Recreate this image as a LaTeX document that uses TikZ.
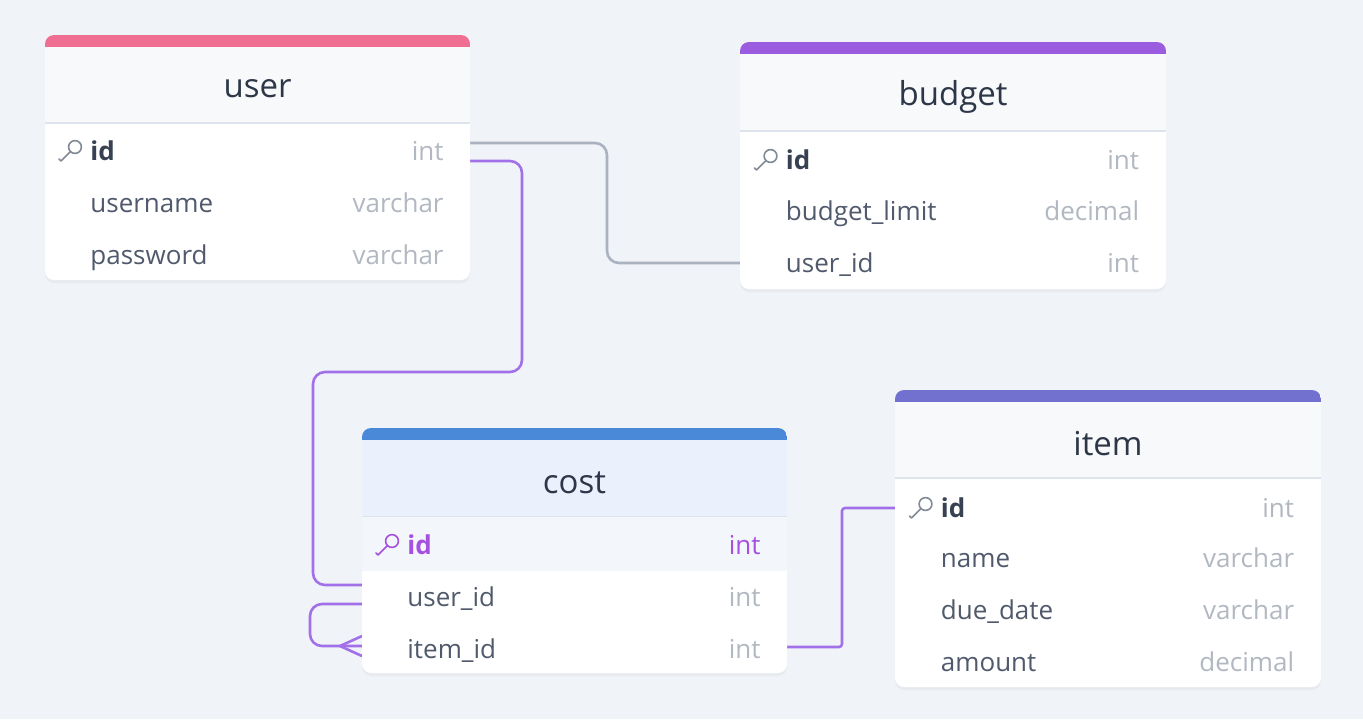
\documentclass[tikz,border=0pt]{standalone}
\usepackage{fontspec}
\setmainfont{Open Sans}
\usetikzlibrary{calc, shadows}

\definecolor{bgcol}{RGB}{240,244,248}
\definecolor{hdrfill}{RGB}{247,249,251}
\definecolor{hdrcost}{RGB}{235,241,252}
\definecolor{baruser}{RGB}{240,110,146}
\definecolor{barbudget}{RGB}{155,92,224}
\definecolor{barcost}{RGB}{74,137,216}
\definecolor{baritem}{RGB}{115,113,208}
\definecolor{titlecol}{RGB}{45,55,72}
\definecolor{fieldcol}{RGB}{80,90,108}
\definecolor{typecol}{RGB}{178,184,194}
\definecolor{iddark}{RGB}{55,65,82}
\definecolor{keycol}{RGB}{130,138,150}
\definecolor{pkcol}{RGB}{165,80,225}
\definecolor{linkpurple}{RGB}{162,112,232}
\definecolor{linkgray}{RGB}{170,178,192}
\definecolor{rowhl}{RGB}{243,246,250}
\definecolor{sepline}{RGB}{222,228,235}

\pgfdeclarelayer{bg}
\pgfdeclarelayer{links}
\pgfsetlayers{bg,links,main}

\newcommand{\fieldfont}{\fontsize{13}{15}\selectfont}
\newcommand{\titlefont}{\fontsize{16.5}{19}\selectfont}

\tikzset{
  row/.style={minimum width=212.5pt, minimum height=25pt, inner sep=0pt, outer sep=0pt},
  fname/.style={anchor=base west, inner sep=0pt, text=fieldcol, font=\fieldfont},
  ftype/.style={anchor=base east, inner sep=0pt, text=typecol, font=\fieldfont},
  pkname/.style={fname, text=iddark, font=\fieldfont\bfseries},
  title/.style={text=titlecol, font=\titlefont},
  link/.style={line width=1.3pt, rounded corners=6pt},
  pkey/.pic={
    \draw[pic actions, line width=0.8pt] (4,-4) circle (3.2pt);
    \draw[pic actions, line width=0.8pt, line cap=round, line join=round]
      (-0.5,0.5) -- (-10,10) -- (-12,8);
  }
}

\begin{document}
\begin{tikzpicture}[x=0.5pt, y=-0.5pt]
    % Background
    \begin{pgfonlayer}{bg}
      \fill[bgcol] (0,0) rectangle (1363,719);
    \end{pgfonlayer}
    \useasboundingbox (0,0) rectangle (1363,719);

    % Tables
    \foreach \tb/\xa/\ya/\xb/\yb/\hb/\bar/\hd in {
        user/45/35/470/280/123/baruser/hdrfill,
        budget/740/42/1166/289/131/barbudget/hdrfill,
        cost/362/428/787/673/517/barcost/hdrcost,
        item/895/390/1321/687/478/baritem/hdrfill}{
      \fill[white, rounded corners=4.5pt,
        drop shadow={opacity=0.08, shadow xshift=0pt, shadow yshift=-1.5pt}]
        (\xa,\ya) rectangle (\xb,\yb);
      \begin{scope}
        \clip[rounded corners=4.5pt] (\xa,\ya) rectangle (\xb,\yb);
        \fill[\hd] (\xa,\ya) rectangle (\xb,\hb);
        \fill[\bar] (\xa,\ya) rectangle (\xb,\ya+12);
        \draw[sepline, line width=1pt] (\xa,\hb) -- (\xb,\hb);
      \end{scope}
      \node[title] (\tb) at ({(\xa+\xb)/2},{(\ya+12+\hb)/2+4}) {\tb};
    }

    % user
    \node[row] (user-id) at (257.5,151) {};
    \pic[draw=keycol] at ($(user-id.west)+(26,0)$) {pkey};
    \node[pkname] at ($(user-id.west)+(45,9)$) {id};
    \node[ftype] at ($(user-id.east)+(-26,9)$) {int};
    \foreach \k/\f/\t/\y in {username/username/varchar/203, password/password/varchar/255}{
      \node[row] (user-\k) at (257.5,\y) {};
      \node[fname] at ($(user-\k.west)+(45,9)$) {\f};
      \node[ftype] at ($(user-\k.east)+(-26,9)$) {\t};
    }

    % budget
    \node[row] (budget-id) at (953,160) {};
    \pic[draw=keycol] at ($(budget-id.west)+(26,0)$) {pkey};
    \node[pkname] at ($(budget-id.west)+(45,9)$) {id};
    \node[ftype] at ($(budget-id.east)+(-26,9)$) {int};
    \foreach \k/\f/\t/\y in {limit/budget\_limit/decimal/211, userid/user\_id/int/263}{
      \node[row] (budget-\k) at (953,\y) {};
      \node[fname] at ($(budget-\k.west)+(45,9)$) {\f};
      \node[ftype] at ($(budget-\k.east)+(-26,9)$) {\t};
    }

    % cost
    \fill[rowhl] (362,517) rectangle (787,571);
    \node[row] (cost-id) at (574.5,545) {};
    \pic[draw=pkcol] at ($(cost-id.west)+(26,0)$) {pkey};
    \node[pkname, text=pkcol] at ($(cost-id.west)+(45,9)$) {id};
    \node[ftype, text=pkcol] at ($(cost-id.east)+(-26,9)$) {int};
    \foreach \k/\f/\t/\y in {userid/user\_id/int/597, itemid/item\_id/int/649}{
      \node[row] (cost-\k) at (574.5,\y) {};
      \node[fname] at ($(cost-\k.west)+(45,9)$) {\f};
      \node[ftype] at ($(cost-\k.east)+(-26,9)$) {\t};
    }

    % item
    \node[row] (item-id) at (1108,508) {};
    \pic[draw=keycol] at ($(item-id.west)+(26,0)$) {pkey};
    \node[pkname] at ($(item-id.west)+(45,9)$) {id};
    \node[ftype] at ($(item-id.east)+(-26,9)$) {int};
    \foreach \k/\f/\t/\y in {name/name/varchar/558, duedate/due\_date/varchar/610, amount/amount/decimal/662}{
      \node[row] (item-\k) at (1108,\y) {};
      \node[fname] at ($(item-\k.west)+(45,9)$) {\f};
      \node[ftype] at ($(item-\k.east)+(-26,9)$) {\t};
    }

    % Relations
    \begin{pgfonlayer}{links}
      \draw[link, linkgray] ($(user-id.east)+(0,-8)$) -- ++(137,0) |- (budget-userid.west);
      \draw[link, linkpurple] ($(user-id.east)+(0,10)$) -- ++(52,0) -- ++(0,211)
        -| ($(cost-userid.west)+(-49,-12)$) -- ($(cost-userid.west)+(0,-12)$);
      \draw[link, linkpurple] ($(cost-userid.west)+(0,7)$) -- ++(-52,0) |- ($(cost-itemid.west)+(0,-3)$);
      \draw[link, linkpurple, rounded corners=0pt]
        ($(cost-itemid.west)+(0,-13)$) -- ($(cost-itemid.west)+(-22,-3)$) -- ($(cost-itemid.west)+(0,7)$);
      \draw[link, linkpurple, rounded corners=1.5pt] ($(cost-itemid.east)+(0,-2)$) -- ++(55,0) |- (item-id.west);
    \end{pgfonlayer}
\end{tikzpicture}
\end{document}
